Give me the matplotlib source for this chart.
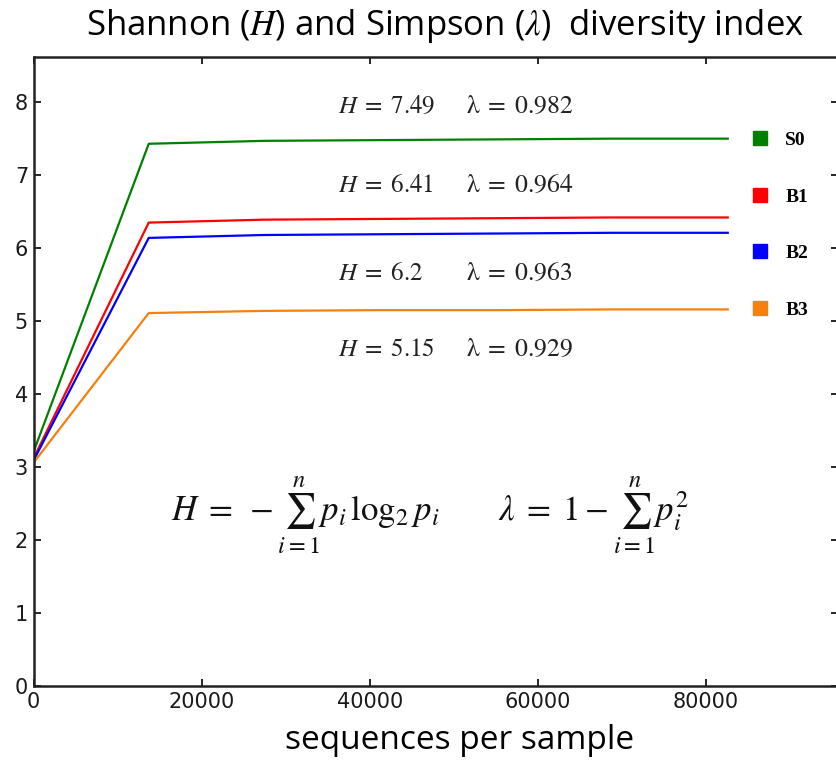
import matplotlib
matplotlib.use("Agg")
from matplotlib import pyplot as plt
from matplotlib.lines import Line2D

# rarefaction data
seqs = [0, 13700, 27500, 41200, 55000, 68800, 82600]
s0 = [3.21, 7.43, 7.47, 7.48, 7.49, 7.50, 7.50]
b1 = [3.12, 6.35, 6.39, 6.40, 6.41, 6.42, 6.42]
b2 = [3.09, 6.14, 6.18, 6.19, 6.20, 6.21, 6.21]
b3 = [3.06, 5.11, 5.14, 5.15, 5.15, 5.16, 5.16]
names = ["S0", "B1", "B2", "B3"]
colors = ["#008000", "#ff0000", "#0000ff", "#f5800c"]
shannon = ["7.49", "6.41", "6.2", "5.15"]
simpson = ["0.982", "0.964", "0.963", "0.929"]
label_y = [7.95, 6.86, 5.66, 4.62]

plt.rcParams["mathtext.fontset"] = "stix"

fig = plt.figure(figsize=(8.36, 7.61), dpi=100)
ax = fig.add_axes([0.0402, 0.0986, 0.9625, 0.8266])

for ys, c in zip([s0, b1, b2, b3], colors):
    ax.plot(seqs, ys, color=c, lw=1.6)

ax.set_xlim(0, 95750)
ax.set_ylim(0, 8.62)
ax.set_xticks([0, 20000, 40000, 60000, 80000])
ax.set_yticks(range(0, 9))
ax.tick_params(direction="in", length=5, width=1.2, top=True, right=True,
               labelsize=15, labelcolor="#1a1a1a", pad=4)
for sp in ax.spines.values():
    sp.set_linewidth(1.8)
    sp.set_color("#222222")

# H / lambda values
for h, l, y in zip(shannon, simpson, label_y):
    ax.text(36200, y, r"$H\;=\;%s$" % h, fontsize=18, va="center", ha="left", color="#222222")
    ax.text(51500, y, r"$\mathrm{\lambda}\;=\;%s$" % l, fontsize=18.5, va="center", ha="left", color="#222222")

# formulas
ax.text(16400, 2.33, r"$H\;=\;-\sum_{i=1}^{n}p_i\,\log_2 p_i$", fontsize=25, va="center", ha="left", color="#111111")
ax.text(55300, 2.33, r"$\lambda\;=\;1-\sum_{i=1}^{n}p_i^2$", fontsize=25, va="center", ha="left", color="#111111")

handles = [Line2D([], [], marker="s", linestyle="none", markersize=10, color=c) for c in colors]
leg = ax.legend(handles, names, loc="upper left", bbox_to_anchor=(0.8975, 0.827),
                bbox_transform=fig.transFigure, frameon=False, borderpad=0, borderaxespad=0,
                handlelength=1.0, handletextpad=0.8, labelspacing=2.0,
                prop={"family": "Liberation Serif", "weight": "bold", "size": 14})

fig.text(0.532, 0.966, r"Shannon ($\mathit{H}$) and Simpson ($\mathit{\lambda}$)  diversity index",
         fontsize=25, family="Open Sans", ha="center", va="center")
fig.text(0.55, 0.027, "sequences per sample", fontsize=24, family="Open Sans", ha="center", va="center")

fig.savefig("out.png", dpi=100)
